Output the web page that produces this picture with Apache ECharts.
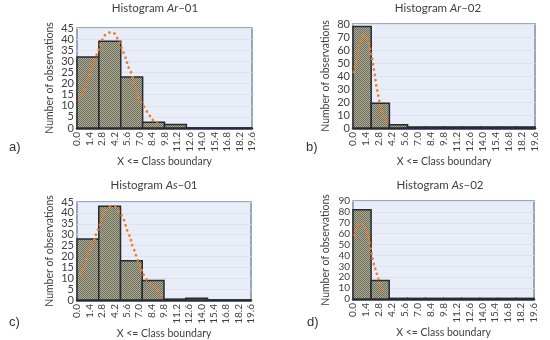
<!DOCTYPE html>
<html><head><meta charset="utf-8">
<script src="https://cdn.jsdelivr.net/npm/echarts@6/dist/echarts.min.js"></script>
<style>html,body{margin:0;padding:0;background:#fff}#c{width:550px;height:340px}</style>
</head><body><div id="c"></div>
<script>
// ---- data ----
const xTickMax = 19.6, xTickStep = 1.4;
const titlesCode = ['Ar', 'Ar', 'As', 'As'];
const titlesNum = ['01', '02', '01', '02'];
const panelLetters = ['a)', 'b)', 'c)', 'd)'];
const yMax = [45, 80, 45, 90];
const yStep = [5, 10, 5, 10];

const binsA = [0, 2.45, 4.9, 7.35, 9.8, 12.25, 14.7, 17.15, 19.6];
const countsA = [32, 39, 23, 2.6, 1.6, 0, 0, 0];
const binsB = [0, 1.96, 3.92, 5.88, 7.84, 9.8, 11.76, 13.72, 15.68, 17.64, 19.6];
const countsB = [78, 19, 2.5, 0.8, 0.8, 0.8, 0.8, 0.8, 0.8, 0.8];
const binsC = [0, 2.45, 4.9, 7.35, 9.8, 12.25, 14.7, 17.15, 19.6];
const countsC = [28, 43, 18, 9, 0.4, 0.8, 0, 0];
const binsD = [0, 1.96, 3.92, 5.88, 7.84, 9.8, 11.76, 13.72, 15.68, 17.64, 19.6];
const countsD = [82, 17, 0.6, 0.6, 0.6, 0.6, 0.6, 0.6, 0.6, 0.6];

const curveA = [[0.3,13],[0.7,16],[1.0,19],[1.2,22],[1.5,25],[1.7,28],[2.0,31],[2.2,33],[2.5,36],[2.8,39.5],[3.3,42.3],[3.9,43],[4.5,40.5],[4.9,37],[5.1,35],[5.4,32],[5.6,29.5],[5.8,27],[6.1,24.5],[6.3,21.5],[6.5,18.5],[6.7,16],[6.9,13.5],[7.3,11],[7.7,8.3],[8.1,5.8],[8.6,3.2],[9.4,1.2]];
const curveB = [[0.1,43],[0.25,48],[0.35,52],[0.45,57],[0.6,62],[0.8,66],[1.0,69],[1.25,71],[1.45,69.5],[1.6,67],[1.8,62],[1.95,57],[2.1,52],[2.2,47],[2.3,43],[2.4,38],[2.5,33],[2.6,29],[2.75,24],[2.9,19],[3.1,14],[3.3,9],[3.5,5]];
const curveC = [[0.38,12],[0.68,14.5],[0.94,17],[1.13,19.8],[1.43,22.6],[1.7,25.6],[2.0,28.2],[2.19,30.8],[2.49,33.5],[2.68,36],[2.94,38.9],[3.3,41.5],[4.08,43],[4.64,40.9],[5.13,38.1],[5.4,35.4],[5.58,32.8],[5.85,30.2],[6.08,27.4],[6.26,24.7],[6.53,22.1],[6.72,19.4],[7.02,16.8],[7.25,14],[7.58,11.1],[8.23,7.6],[8.9,5.3],[9.28,3],[9.74,1.2]];
const curveD = [[0.18,58.7],[0.29,63.7],[0.54,69],[0.8,69.5],[1.08,68.3],[1.37,63.7],[1.62,58.7],[1.73,53.5],[1.88,48],[1.99,42.8],[2.09,38.5],[2.24,32.7],[2.42,27.5],[2.6,22.6],[2.82,16.8],[3.07,11.9],[3.36,7.2]];

const binsAll = [binsA, binsB, binsC, binsD];
const countsAll = [countsA, countsB, countsC, countsD];
const curvesAll = [curveA, curveB, curveC, curveD];

// ---- layout / style ----
const grids = [
  {left: 77, top: 28, width: 175, height: 100},
  {left: 353, top: 24, width: 182, height: 104},
  {left: 77, top: 202, width: 174, height: 98},
  {left: 353, top: 201, width: 181, height: 98}
];
const yLabelSize = [11, 11, 11, 10];
const FONT = 'Lato, "Open Sans", sans-serif';
const TXT = '#404040';

// checker pattern for the bars
const pc = document.createElement('canvas');
pc.width = 2; pc.height = 2;
const pctx = pc.getContext('2d');
pctx.fillStyle = '#adac94'; pctx.fillRect(0,0,2,2);
pctx.fillStyle = '#6e6d5c'; pctx.fillRect(0,0,1,1); pctx.fillRect(1,1,1,1);
const barPattern = {image: pc, repeat: 'repeat'};

const chart = echarts.init(document.getElementById('c'), null, {renderer: 'canvas'});

const xAxes = [], yAxes = [], series = [];
grids.forEach((g, i) => {
  g.show = true; g.backgroundColor = '#e8edf7'; g.borderColor = '#7c8ca6'; g.borderWidth = 1.5;
  xAxes.push({
    type: 'value', gridIndex: i, min: 0, max: xTickMax, interval: xTickStep,
    name: 'X <= Class boundary', nameLocation: 'middle', nameGap: 28,
    nameTextStyle: {fontFamily: FONT, fontSize: 10.5, color: TXT},
    axisLine: {show: true, onZero: true, lineStyle: {color: '#2b3248', width: 2.5}},
    axisTick: {show: false}, splitLine: {show: false},
    axisLabel: {rotate: 90, fontFamily: FONT, fontSize: 10, color: TXT, margin: 4,
      formatter: v => v.toFixed(1), showMaxLabel: true, showMinLabel: true, hideOverlap: false}
  });
  yAxes.push({
    type: 'value', gridIndex: i, min: 0, max: yMax[i], interval: yStep[i],
    name: 'Number of observations', nameLocation: 'middle', nameGap: 22,
    nameTextStyle: {fontFamily: FONT, fontSize: 10.5, color: TXT},
    axisLine: {show: false}, axisTick: {show: false},
    splitLine: {show: true, lineStyle: {color: '#dde3ee', width: 1}},
    axisLabel: {fontFamily: FONT, fontSize: yLabelSize[i], lineHeight: 8, color: TXT, margin: 3,
      showMinLabel: true, showMaxLabel: true, hideOverlap: false}
  });
  const bins = binsAll[i];
  const barData = countsAll[i].map((c, k) => [bins[k], bins[k+1], c]);
  series.push({
    type: 'custom', xAxisIndex: i, yAxisIndex: i, data: barData,
    encode: {x: [0, 1], y: 2},
    renderItem: (params, api) => {
      const s = api.coord([api.value(0), api.value(2)]);
      const e = api.coord([api.value(1), 0]);
      return {type: 'rect', shape: {x: s[0], y: s[1], width: e[0] - s[0], height: e[1] - s[1]},
        style: {fill: barPattern, stroke: '#262a33', lineWidth: 1.5}};
    }
  });
  series.push({
    type: 'line', xAxisIndex: i, yAxisIndex: i, data: curvesAll[i], smooth: true,
    symbol: 'none', z: 5,
    lineStyle: {color: '#ed7d31', width: 2.7, type: [0.1, 5.2], cap: 'round'}
  });
});

const titlePos = [[155, 8], [438, 8], [154, 185], [440, 185]];
const letterPos = [[9, 147], [306, 147], [9, 322], [307, 322]];
const gr = [];
titlePos.forEach((p, i) => {
  gr.push({
    type: 'text', x: p[0], y: p[1],
    style: {
      text: 'Histogram {i|' + titlesCode[i] + '}\u2013' + titlesNum[i],
      font: '11.5px ' + FONT, fill: TXT, align: 'center', verticalAlign: 'middle',
      rich: {i: {fontStyle: 'italic', fontFamily: FONT, fontSize: 11.5, fill: TXT, color: TXT}}
    }
  });
  gr.push({
    type: 'text', x: letterPos[i][0], y: letterPos[i][1],
    style: {text: panelLetters[i], font: '13px "Liberation Sans", Arial, sans-serif', fill: '#333',
      verticalAlign: 'middle'}
  });
});

chart.setOption({
  animation: false,
  grid: grids, xAxis: xAxes, yAxis: yAxes, series: series, graphic: gr
});
</script></body></html>
